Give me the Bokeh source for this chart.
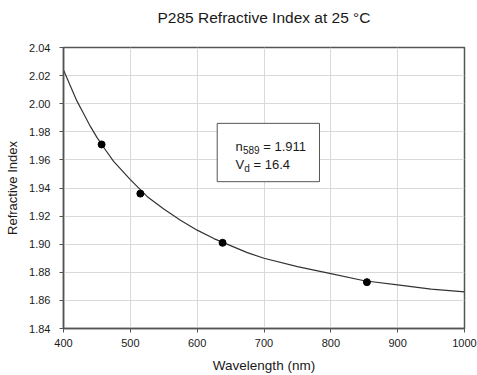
from bokeh.plotting import figure
from bokeh.models import FixedTicker, BoxAnnotation, Label, NumeralTickFormatter, Range1d, LinearAxis
from bokeh.embed import file_html
from bokeh.resources import INLINE

# measured data points
wavelength_pts = [457, 515, 638, 854]
index_pts = [1.971, 1.936, 1.901, 1.873]

# fitted dispersion curve
curve_wl = [400, 410, 420, 430, 440, 450, 460, 475, 500, 525, 550, 575, 600, 625,
            650, 675, 700, 750, 800, 850, 900, 950, 1000]
curve_n = [2.024, 2.013, 2.002, 1.993, 1.984, 1.976, 1.969, 1.959, 1.946, 1.934,
           1.925, 1.917, 1.910, 1.904, 1.899, 1.894, 1.890, 1.884, 1.879, 1.874,
           1.871, 1.868, 1.866]

x_ticks = [400, 500, 600, 700, 800, 900, 1000]
y_ticks = [1.84, 1.86, 1.88, 1.90, 1.92, 1.94, 1.96, 1.98, 2.00, 2.02, 2.04]

TITLE = "P285 Refractive Index at 25 °C"
FONT = "Liberation Sans"
TXT = "#1a1a1a"

p = figure(width=477, height=375,
           x_range=Range1d(400, 1000), y_range=Range1d(1.84, 2.04),
           output_backend="svg", toolbar_location=None,
           min_border_left=63, min_border_right=13, min_border_top=47, min_border_bottom=46)

xax = p.below[0]
yax = p.left[0]

for ax in (xax, yax):
    ax.major_label_text_font = FONT
    ax.major_label_text_font_size = "11px"
    ax.major_label_text_color = TXT
    ax.axis_label_text_font = FONT
    ax.axis_label_text_font_size = "13px"
    ax.axis_label_text_font_style = "normal"
    ax.axis_label_text_color = TXT
    ax.axis_line_color = "#555555"
    ax.axis_line_width = 1.5
    ax.major_tick_line_color = "#555555"
    ax.major_tick_out = 4
    ax.major_tick_in = 0
    ax.minor_tick_line_color = None

xax.ticker = FixedTicker(ticks=x_ticks)
yax.ticker = FixedTicker(ticks=y_ticks)
yax.formatter = NumeralTickFormatter(format="0.00")
xax.axis_label = "Wavelength (nm)"
yax.axis_label = "Refractive Index"
xax.axis_label_text_font_size = "13.5px"
xax.major_label_standoff = 6
xax.axis_label_standoff = 8
yax.major_label_standoff = 9
yax.axis_label_standoff = 6

# title drawn as the label of a bare axis above the frame
title_axis = LinearAxis(axis_label=TITLE, ticker=FixedTicker(ticks=[]),
                        axis_line_color=None, major_tick_out=0, major_tick_in=0,
                        minor_tick_out=0, minor_tick_in=0, major_label_standoff=0,
                        axis_label_standoff=22,
                        axis_label_text_font=FONT, axis_label_text_font_size="15.5px",
                        axis_label_text_font_style="normal", axis_label_text_color=TXT)
p.add_layout(title_axis, "above")

p.outline_line_color = "#555555"
p.outline_line_width = 1.5

p.xgrid.grid_line_color = "#d9d9d9"
p.ygrid.grid_line_color = "#d9d9d9"
p.xgrid.grid_line_width = 1
p.ygrid.grid_line_width = 1

p.line(curve_wl, curve_n, line_color="#333333", line_width=1.2)
p.scatter(wavelength_pts, index_pts, size=7, fill_color="black", line_color="black")

box = BoxAnnotation(left=630, right=783, top=1.986, bottom=1.9445,
                    fill_color="white", fill_alpha=1.0,
                    line_color="#555555", line_width=1, line_alpha=1.0)
p.add_layout(box)

def lab(x, y, t, size, dx, dy):
    p.add_layout(Label(x=x, y=y, text=t, text_font=FONT, text_font_size=size,
                       x_offset=dx, y_offset=dy,
                       text_color=TXT, text_baseline="alphabetic", text_align="left"))

lab(657.5, 1.9698, "n", "13px", 0, 0)
lab(657.5, 1.9698, "589", "10px", 7.3, -4)
lab(657.5, 1.9698, "= 1.911", "13px", 27.6, 0)
lab(657.5, 1.9570, "V", "13px", 0, 0)
lab(657.5, 1.9570, "d", "10px", 8.7, -4)
lab(657.5, 1.9570, "= 16.4", "13px", 17.9, 0)

open("out.html", "w").write(file_html(p, INLINE))
